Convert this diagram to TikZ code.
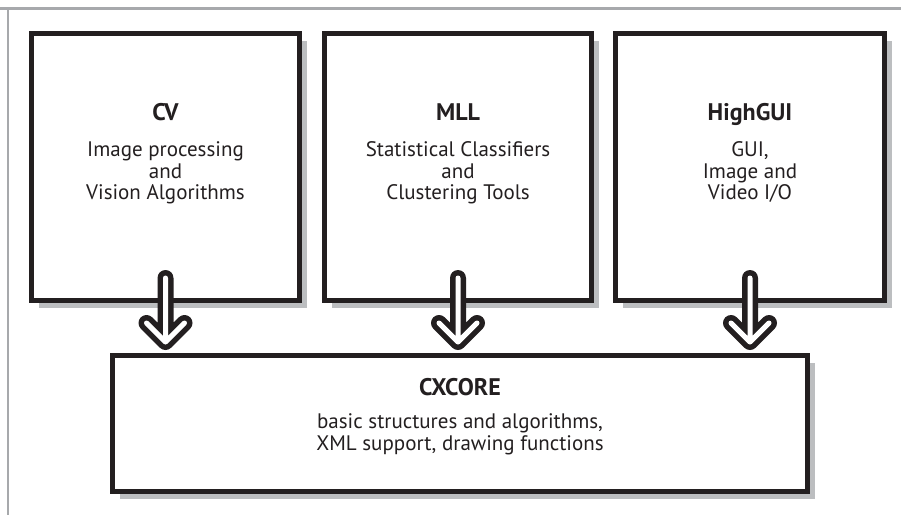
\documentclass[tikz,border=0pt]{standalone}
\usepackage{fontspec}
\setmainfont{PT Sans}
\usepackage{xcolor}
\usetikzlibrary{positioning, shadows}

\definecolor{inkblack}{HTML}{231F20}
\definecolor{shadowgray}{HTML}{BCBEC0}
\definecolor{framegray}{HTML}{A7A9AC}

\begin{document}
\begin{tikzpicture}[
  x=0.5pt, y=-0.5pt,
  module/.style={
    rectangle,
    draw=inkblack,
    fill=white,
    line width=2.5pt,
    minimum width=#1,
    minimum height=133.5pt,
    inner sep=0pt,
    drop shadow={shadow xshift=3.5pt, shadow yshift=-3.5pt, fill=shadowgray, opacity=1}
  },
  title/.style={
    font=\bfseries\fontsize{12}{14}\selectfont,
    text=inkblack,
    inner sep=0pt,
    anchor=base
  },
  body/.style={
    font=\fontsize{10.5}{10.9}\selectfont,
    text=inkblack,
    align=center,
    inner sep=0pt,
    anchor=north
  },
  hollow/.style={
    draw=inkblack,
    line width=8pt,
    line cap=round,
    line join=round,
    postaction={draw=white, line width=2.5pt}
  }
]
\useasboundingbox (0,0) rectangle (901,515);

% Page frame
\draw[framegray, line width=1.5pt] (0,8) -- (901,8);
\draw[framegray, line width=0.6pt] (8,8) -- (8,515);

% Library modules
\node[module=134pt] (cv) at (165.5,167) {};
\node[module=133.5pt] (mll) at (458,167) {};
\node[module=134.5pt] (hgui) at (750,167) {};
\node[module=347.5pt, minimum height=68pt] (core) at (460,423.5) {};

% Module texts
\node[title] (cvtitle) at (165.5,120) {CV};
\node[body] (cvbody) at (165.5,141) {Image processing\\and\\Vision Algorithms};
\node[title] (mlltitle) at (458,120) {MLL};
\node[body] (mllbody) at (458,141) {Statistical Classifiers\\and\\Clustering Tools};
\node[title] (hguititle) at (750,120) {HighGUI};
\node[body] (hguibody) at (750,141) {GUI,\\Image and\\Video I/O};
\node[title] (coretitle) at (460,395) {CXCORE};
\node[body] (corebody) at (460,413) {basic structures and algorithms,\\XML support, drawing functions};

% Hollow arrows into the core
\path (cv.south) ++(0,-25) coordinate (cvtail);
\path (cv.south |- core.north) ++(0,-11) coordinate (cvtip);
\path (mll.south) ++(0,-25) coordinate (mlltail);
\path (mll.south |- core.north) ++(0,-11) coordinate (mlltip);
\path (hgui.south) ++(0,-25) coordinate (hguitail);
\path (hgui.south |- core.north) ++(0,-11) coordinate (hguitip);

\draw[hollow] (cvtail) -- (cvtip) ++(-19,-19) -- (cvtip) -- ++(19,-19);
\draw[hollow] (mlltail) -- (mlltip) ++(-19,-19) -- (mlltip) -- ++(19,-19);
\draw[hollow] (hguitail) -- (hguitip) ++(-19,-19) -- (hguitip) -- ++(19,-19);
\end{tikzpicture}
\end{document}
